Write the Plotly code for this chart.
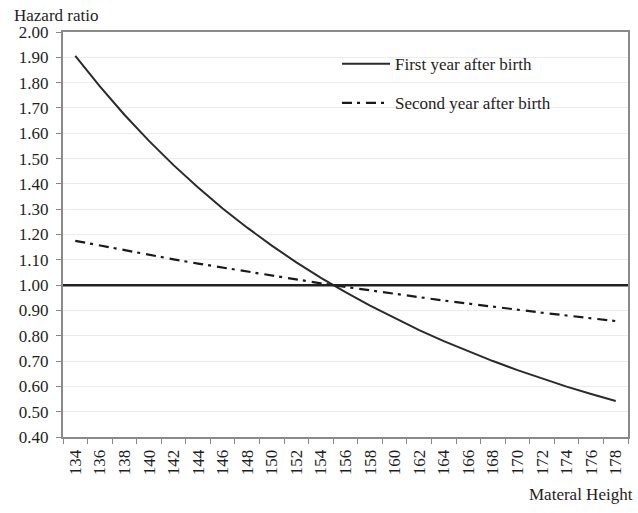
import plotly.graph_objects as go

heights = [134, 136, 138, 140, 142, 144, 146, 148, 150, 152, 154, 156,
           158, 160, 162, 164, 166, 168, 170, 172, 174, 176, 178]
height_labels = [str(h) for h in heights]

first_year = [1.906, 1.785, 1.673, 1.570, 1.474, 1.386, 1.303, 1.227, 1.156,
              1.090, 1.029, 0.972, 0.919, 0.869, 0.822, 0.779, 0.738, 0.700,
              0.664, 0.631, 0.599, 0.570, 0.542]
second_year = [1.175, 1.156, 1.138, 1.120, 1.102, 1.085, 1.069, 1.053, 1.037,
               1.022, 1.007, 0.993, 0.979, 0.965, 0.952, 0.939, 0.927, 0.914,
               0.903, 0.891, 0.880, 0.868, 0.858]

y_ticks = [0.4, 0.5, 0.6, 0.7, 0.8, 0.9, 1.0, 1.1, 1.2, 1.3, 1.4, 1.5, 1.6,
           1.7, 1.8, 1.9, 2.0]
reference_level = 1.0

FONT = "Liberation Serif, Times New Roman, serif"
TXT = "#1e1e1e"
FS = 17

fig = go.Figure()
fig.add_trace(go.Scatter(
    x=height_labels, y=first_year, mode="lines", name="First year after birth",
    line=dict(color="#2a2a2a", width=2), legendgroup="a"))
fig.add_trace(go.Scatter(
    x=height_labels, y=second_year, mode="lines", name="Second year after birth",
    line=dict(color="#1a1a1a", width=2.2, dash="10px,5px,3px,6px"),
    legendgroup="b"))

fig.add_shape(type="line", xref="paper", x0=0, x1=1, yref="y",
              y0=reference_level, y1=reference_level,
              line=dict(color="#222222", width=2.5))

fig.update_layout(
    width=638, height=513,
    margin=dict(l=63, r=10, t=32, b=76),
    paper_bgcolor="white", plot_bgcolor="white",
    font=dict(family=FONT, size=FS, color=TXT),
    showlegend=True,
    legend=dict(x=0.485, y=0.965, xanchor="left", yanchor="top",
                bgcolor="rgba(0,0,0,0)", tracegroupgap=14,
                traceorder="grouped", itemwidth=48,
                font=dict(family=FONT, size=FS, color=TXT)),
    xaxis=dict(type="category", categoryorder="array",
               categoryarray=height_labels, automargin=False,
               range=[-0.5, len(height_labels) - 0.5],
               tickangle=-90, ticks="outside", ticklen=5,
               tickcolor="#888888", tickson="boundaries",
               ticklabelstandoff=4,
               showline=True, linecolor="#8a8a8a", linewidth=2,
               mirror=True, showgrid=False,
               tickfont=dict(family=FONT, size=FS, color=TXT)),
    yaxis=dict(range=[0.4, 2.0], tickvals=y_ticks, tickformat=".2f",
               automargin=False,
               ticks="outside", ticklen=5, tickcolor="#888888",
               ticklabelstandoff=4,
               showline=True, linecolor="#8a8a8a", linewidth=2,
               mirror=True, showgrid=True, gridcolor="#ececec",
               gridwidth=1, zeroline=False,
               tickfont=dict(family=FONT, size=FS, color=TXT)),
    annotations=[
        dict(text="Hazard ratio", xref="paper", yref="paper", x=-0.09,
             y=1.04, xanchor="left", yanchor="middle", showarrow=False,
             font=dict(family=FONT, size=FS, color=TXT)),
        dict(text="Materal Height", xref="paper", yref="paper", x=1,
             y=-0.143, xanchor="right", yanchor="middle", xshift=7,
             showarrow=False,
             font=dict(family=FONT, size=FS, color=TXT)),
    ],
)

fig.write_html("out.html",
               config={"displayModeBar": False},
               post_script="document.body.style.margin='0';")
